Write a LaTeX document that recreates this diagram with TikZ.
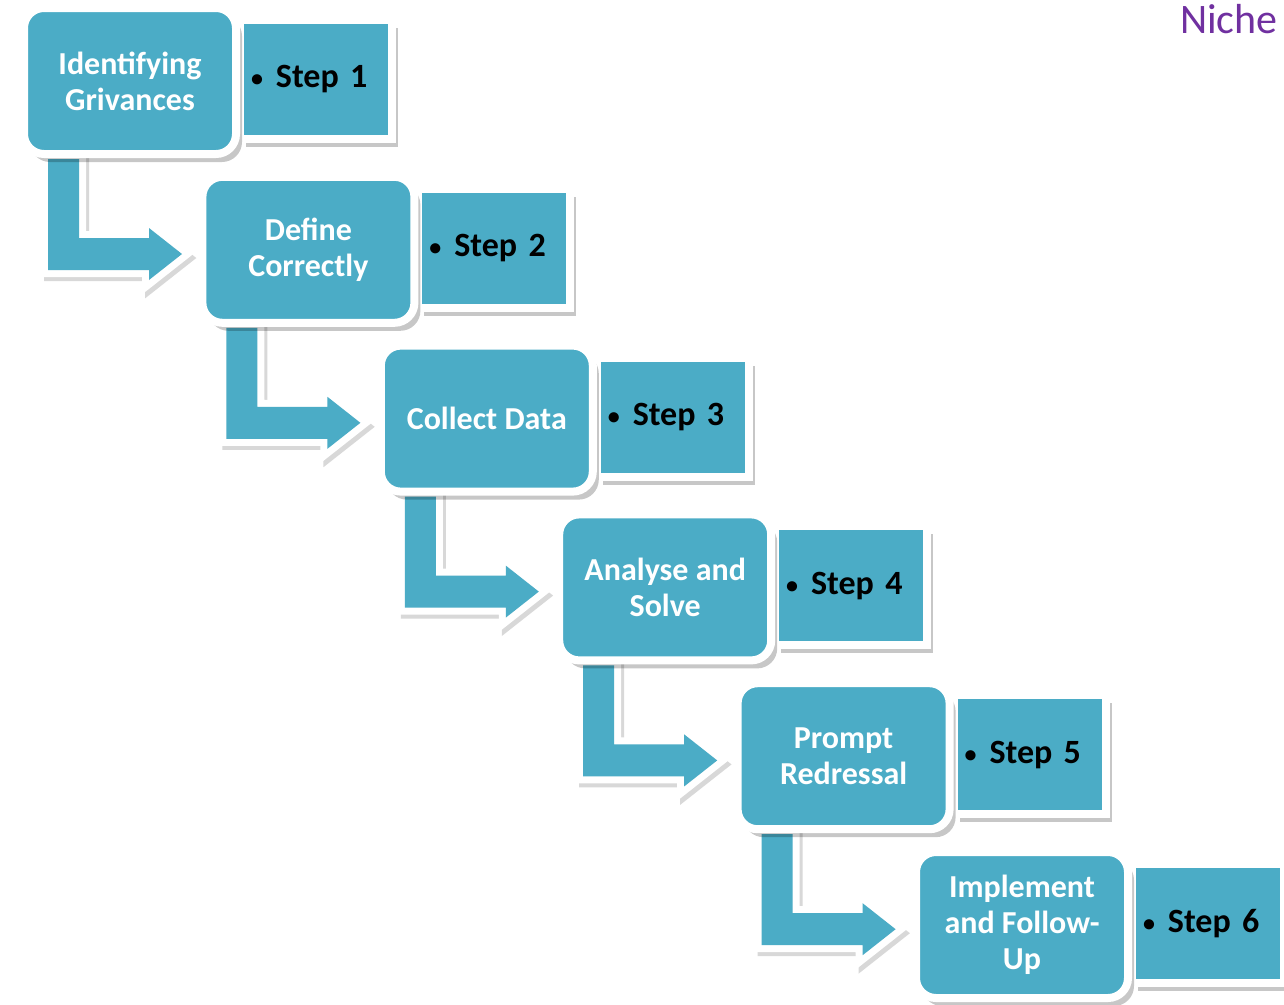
\documentclass[tikz,border=0pt]{standalone}
\usepackage{fontspec}
\setmainfont{Carlito}
\usetikzlibrary{shadows,backgrounds}
\definecolor{aqua}{HTML}{4BACC6}
\definecolor{nichepurple}{HTML}{7030A0}
\pgfdeclarelayer{paper}
\pgfsetlayers{paper,background,main}
\tikzset{
  gbox/.style={fill=aqua, draw=white, line width=8pt, rounded corners=20pt,
    minimum width=212pt, minimum height=146pt, inner sep=0pt, align=center,
    text=white, font=\bfseries\fontsize{32}{36}\selectfont,
    drop shadow={shadow xshift=6pt, shadow yshift=-8pt, opacity=0.22, fill=black}},
  sbox/.style={fill=aqua, draw=white, line width=8pt, minimum height=119pt,
    text width=130pt, inner xsep=11pt, inner ysep=0pt, align=left,
    text=black, font=\bfseries\fontsize{34}{40}\selectfont,
    drop shadow={shadow xshift=6pt, shadow yshift=-8pt, opacity=0.22, fill=black}},
  arrowshade/.style={fill=black!25, draw=black!25, line width=14pt, line join=miter, opacity=0.6},
  arrowrim/.style={fill=white, draw=white, line width=14pt, line join=miter},
  arrowbody/.style={fill=aqua},
  bentarrow/.pic={
    \path[arrowshade, shift={(3,4)}] (28,1) -- (59,1) -- (59,80) -- (129,80) -- (129,70) -- (162,96) -- (129,122) -- (129,112) -- (28,112) -- cycle;
    \path[arrowrim] (28,1) -- (59,1) -- (59,80) -- (129,80) -- (129,70) -- (162,96) -- (129,122) -- (129,112) -- (28,112) -- cycle;
    \path[arrowbody] (28,1) -- (59,1) -- (59,80) -- (129,80) -- (129,70) -- (162,96) -- (129,122) -- (129,112) -- (28,112) -- cycle;
  }
}
\newcommand{\stepbullet}{{\fontsize{24}{24}\selectfont\raisebox{1pt}{•}}\hspace{13pt}}
\begin{document}
\begin{tikzpicture}[x=1pt,y=-1pt]
\begin{pgfonlayer}{paper}
\fill[white] (0,0) rectangle (1284,1004);
\end{pgfonlayer}
\useasboundingbox (0,0) rectangle (1284,1004);
\foreach \i/\lbl [count=\n] in {0/{Identifying\\Grivances},1/{Define\\Correctly},2/{Collect Data},3/{Analyse and\\Solve},4/{Prompt\\Redressal},5/{Implement\\and Follow-\\Up}}{
  \node[sbox] (s\n) at ({316+\i*178.4},{79.5+\i*168.8}) {\stepbullet Step \n};
  \node[gbox] (g\n) at ({130+\i*178.4},{81+\i*168.8}) {\lbl};
}
\begin{scope}[on background layer]
\foreach \n in {1,...,5}{
  \pic (a\n) at (g\n.south west) {bentarrow};
}
\end{scope}
\node[anchor=base west, inner sep=0pt, text=nichepurple, font=\fontsize{42}{42}\selectfont] (niche) at (1180,33) {Niche};
\end{tikzpicture}
\end{document}
